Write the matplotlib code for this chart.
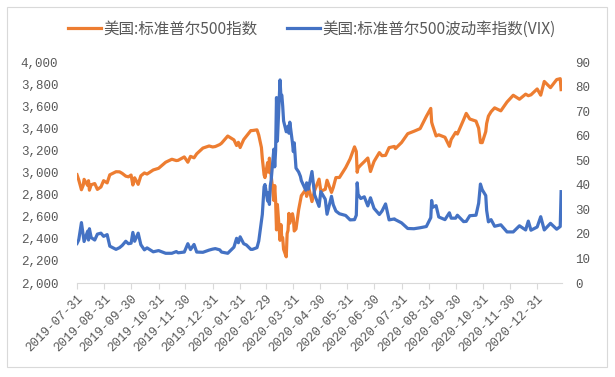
import matplotlib
matplotlib.use("Agg")
import matplotlib.pyplot as plt
import pandas as pd

plt.rcParams['font.family'] = ['Noto Sans CJK SC', 'DejaVu Sans']

dates = [
    "2019-07-31", "2019-08-02", "2019-08-05", "2019-08-07", "2019-08-08", "2019-08-12", "2019-08-13",
    "2019-08-14", "2019-08-16", "2019-08-20", "2019-08-23", "2019-08-27", "2019-08-30", "2019-09-03",
    "2019-09-06", "2019-09-13", "2019-09-17", "2019-09-20", "2019-09-24", "2019-09-27", "2019-09-30",
    "2019-10-02", "2019-10-04", "2019-10-08", "2019-10-11", "2019-10-15", "2019-10-18", "2019-10-25",
    "2019-10-31", "2019-11-08", "2019-11-15", "2019-11-20", "2019-11-22", "2019-11-29", "2019-12-03",
    "2019-12-06", "2019-12-10", "2019-12-13", "2019-12-20", "2019-12-27", "2019-12-31", "2020-01-03",
    "2020-01-08", "2020-01-10", "2020-01-17", "2020-01-24", "2020-01-27", "2020-01-29", "2020-01-31",
    "2020-02-04", "2020-02-07", "2020-02-12", "2020-02-14", "2020-02-19", "2020-02-21", "2020-02-24",
    "2020-02-25", "2020-02-27", "2020-02-28", "2020-03-02", "2020-03-03", "2020-03-04", "2020-03-05",
    "2020-03-06", "2020-03-09", "2020-03-10", "2020-03-11", "2020-03-12", "2020-03-13", "2020-03-16",
    "2020-03-17", "2020-03-18", "2020-03-19", "2020-03-20", "2020-03-23", "2020-03-24", "2020-03-25",
    "2020-03-26", "2020-03-27", "2020-03-30", "2020-03-31", "2020-04-01", "2020-04-03", "2020-04-06",
    "2020-04-08", "2020-04-09", "2020-04-14", "2020-04-15", "2020-04-17", "2020-04-21", "2020-04-24",
    "2020-04-29", "2020-05-01", "2020-05-06", "2020-05-08", "2020-05-13", "2020-05-15", "2020-05-18",
    "2020-05-22", "2020-05-29", "2020-06-03", "2020-06-08", "2020-06-10", "2020-06-11", "2020-06-12",
    "2020-06-15", "2020-06-19", "2020-06-23", "2020-06-26", "2020-06-30", "2020-07-06", "2020-07-09",
    "2020-07-13", "2020-07-17", "2020-07-23", "2020-07-24", "2020-07-31", "2020-08-07", "2020-08-14",
    "2020-08-21", "2020-08-28", "2020-09-02", "2020-09-03", "2020-09-04", "2020-09-08", "2020-09-11",
    "2020-09-18", "2020-09-23", "2020-09-25", "2020-09-30", "2020-10-02", "2020-10-09", "2020-10-12",
    "2020-10-16", "2020-10-23", "2020-10-26", "2020-10-28", "2020-10-30", "2020-11-03", "2020-11-04",
    "2020-11-06", "2020-11-09", "2020-11-13", "2020-11-20", "2020-11-27", "2020-12-04", "2020-12-11",
    "2020-12-18", "2020-12-21", "2020-12-24", "2020-12-31", "2021-01-04", "2021-01-08", "2021-01-15",
    "2021-01-22", "2021-01-26", "2021-01-27",
]

spx = [
    2980, 2932, 2844, 2884, 2938, 2883, 2926,
    2840, 2889, 2900, 2847, 2869, 2926, 2906,
    2979, 3007, 3006, 2992, 2967, 2961, 2977,
    2887, 2952, 2893, 2970, 2996, 2986, 3023,
    3038, 3093, 3120, 3108, 3110, 3141, 3093,
    3146, 3133, 3169, 3221, 3240, 3231, 3235,
    3253, 3265, 3330, 3295, 3244, 3273, 3226,
    3298, 3328, 3379, 3380, 3386, 3338, 3226,
    3128, 2979, 2954, 3090, 3003, 3130, 3024,
    2972, 2747, 2882, 2741, 2481, 2711, 2386,
    2529, 2398, 2409, 2305, 2237, 2447, 2476,
    2630, 2541, 2627, 2585, 2471, 2489, 2664,
    2750, 2790, 2846, 2784, 2875, 2737, 2837,
    2940, 2831, 2848, 2930, 2820, 2864, 2954,
    2955, 3044, 3123, 3232, 3190, 3002, 3041,
    3067, 3098, 3131, 3009, 3100, 3180, 3152,
    3155, 3225, 3236, 3216, 3271, 3351, 3373,
    3397, 3508, 3580, 3455, 3427, 3331, 3341,
    3319, 3237, 3298, 3363, 3348, 3477, 3535,
    3484, 3465, 3401, 3271, 3270, 3370, 3443,
    3510, 3550, 3585, 3558, 3638, 3699, 3663,
    3709, 3695, 3703, 3756, 3700, 3824, 3768,
    3841, 3849, 3750,
]

vix = [
    16.1, 17.6, 24.6, 19.5, 16.9, 21.1, 17.5,
    22.1, 18.5, 17.5, 19.9, 20.3, 19.0, 19.7,
    15.0, 13.7, 14.4, 15.3, 17.0, 16.0, 16.2,
    20.6, 17.0, 20.3, 15.6, 13.5, 14.3, 12.7,
    13.2, 12.1, 12.1, 12.8, 12.3, 12.6, 16.0,
    13.6, 15.7, 12.6, 12.5, 13.4, 13.8, 14.0,
    13.5, 12.6, 12.1, 14.6, 18.2, 16.4, 18.8,
    16.0, 15.5, 13.7, 13.7, 14.4, 17.1, 25.0,
    27.9, 39.2, 40.1, 33.4, 36.8, 32.0, 39.6,
    41.9, 54.5, 47.3, 53.9, 75.5, 57.8, 82.7,
    75.9, 76.5, 72.0, 66.0, 61.6, 61.7, 63.9,
    61.0, 65.5, 57.1, 53.5, 57.1, 46.8, 45.2,
    43.4, 41.7, 37.8, 40.8, 38.2, 45.4, 35.9,
    31.2, 37.2, 34.1, 28.0, 35.3, 31.9, 29.3,
    28.2, 27.5, 25.7, 25.8, 27.6, 40.8, 36.1,
    34.4, 35.1, 31.4, 34.7, 30.4, 27.9, 29.3,
    32.2, 25.7, 26.1, 25.8, 24.5, 22.2, 22.1,
    22.5, 23.0, 26.6, 33.6, 30.8, 31.5, 26.9,
    25.8, 28.6, 26.4, 26.4, 27.6, 25.0, 25.1,
    27.4, 27.6, 32.5, 40.3, 38.0, 35.6, 29.6,
    24.9, 25.8, 23.1, 23.7, 20.8, 20.8, 23.3,
    21.6, 25.2, 21.5, 22.8, 27.0, 21.6, 24.3,
    21.9, 23.0, 37.2,
]

tick_dates = [
    "2019-07-31", "2019-08-31", "2019-09-30", "2019-10-31", "2019-11-30", "2019-12-31",
    "2020-01-31", "2020-02-29", "2020-03-31", "2020-04-30", "2020-05-31", "2020-06-30",
    "2020-07-31", "2020-08-31", "2020-09-30", "2020-10-31", "2020-11-30", "2020-12-31",
]

left_ticks = [2000, 2200, 2400, 2600, 2800, 3000, 3200, 3400, 3600, 3800, 4000]
right_ticks = [0, 10, 20, 30, 40, 50, 60, 70, 80, 90]

label_spx = "美国:标准普尔500指数"
label_vix = "美国:标准普尔500波动率指数(VIX)"

x = pd.to_datetime(dates)
ticks = pd.to_datetime(tick_dates)

W, H = 615, 377
fig = plt.figure(figsize=(W / 100, H / 100), dpi=100)
fig.patch.set_facecolor("white")

# chart border
fig.add_artist(plt.Rectangle((7 / W, 1 - 367 / H), 600 / W, 360 / H, transform=fig.transFigure,
                             fill=False, edgecolor="#D9D9D9", linewidth=0.8))

ax = fig.add_axes([77 / W, 1 - 283 / H, 485 / W, 221 / H])
ax2 = ax.twinx()

orange = "#ED7D31"
blue = "#4472C4"
l1, = ax.plot(x, spx, color=orange, lw=2.3, label=label_spx, solid_joinstyle="round")
l2, = ax2.plot(x, vix, color=blue, lw=2.3, label=label_vix, solid_joinstyle="round")

ax.set_ylim(2000, 4000)
ax.set_yticks(left_ticks)
ax.set_yticklabels([f"{v:,}" for v in left_ticks])
ax2.set_ylim(0, 90)
ax2.set_yticks(right_ticks)
ax2.set_yticklabels([str(v) for v in right_ticks])

ax.set_xlim(pd.Timestamp("2019-07-31"), pd.Timestamp("2021-01-28"))
ax.set_xticks(ticks)
ax.set_xticklabels([t.strftime("%Y-%m-%d") for t in ticks], rotation=45, ha="right",
                   rotation_mode="anchor")

gray = "#595959"
for a in (ax, ax2):
    for s in ("top", "left", "right", "bottom"):
        a.spines[s].set_visible(False)
ax.spines["bottom"].set_visible(True)
ax.spines["bottom"].set_color("#D9D9D9")
ax.spines["bottom"].set_linewidth(0.8)

mono = "Liberation Mono"
ax.tick_params(axis="y", length=0, pad=13.5, labelcolor=gray, labelsize=9, labelfontfamily=mono)
ax2.tick_params(axis="y", length=0, pad=9.5, labelcolor=gray, labelsize=9, labelfontfamily=mono)
ax.tick_params(axis="x", direction="out", length=4, width=0.8, color="#D9D9D9", pad=3,
               labelcolor=gray, labelsize=9, labelfontfamily=mono)

leg1 = fig.legend(handles=[l1], loc="center left", bbox_to_anchor=(68 / W, 1 - 29 / H),
                  frameon=False, fontsize=11.2, handlelength=2.1, handletextpad=0.2,
                  borderpad=0, borderaxespad=0, labelcolor=gray)
leg2 = fig.legend(handles=[l2], loc="center left", bbox_to_anchor=(287 / W, 1 - 29 / H),
                  frameon=False, fontsize=11.2, handlelength=2.1, handletextpad=0.2,
                  borderpad=0, borderaxespad=0, labelcolor=gray)

fig.savefig("out.png", dpi=100)
